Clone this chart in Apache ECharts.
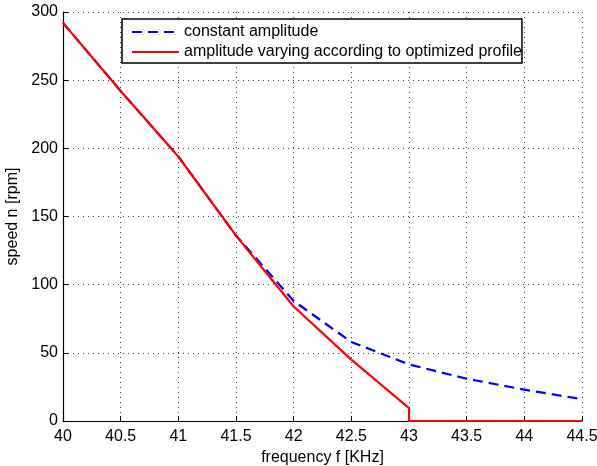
<!DOCTYPE html>
<html>
<head>
<meta charset="utf-8">
<script src="https://cdn.jsdelivr.net/npm/echarts@6/dist/echarts.min.js"></script>
<style>
html,body{margin:0;padding:0;background:#fff;}
#c{width:597px;height:466px;}
</style>
</head>
<body>
<div id="c"></div>
<script>
const xTicks = [40, 40.5, 41, 41.5, 42, 42.5, 43, 43.5, 44, 44.5];
const yTicks = [0, 50, 100, 150, 200, 250, 300];

const constFreq = [40, 40.5, 41, 41.5, 42, 42.5, 43, 43.5, 44, 44.5];
const constSpeed = [292, 242, 194, 136, 88, 58, 41.5, 31, 23, 16];

const optFreq = [40, 40.5, 41, 41.5, 42, 42.5, 43, 43, 44.5];
const optSpeed = [292, 242, 194, 136, 84, 45, 9.5, 0, 0];

const seriesNames = ['constant amplitude', 'amplitude varying according to optimized profile'];

const font = 'Liberation Sans, Arial, Helvetica, sans-serif';
const chart = echarts.init(document.getElementById('c'), null, {renderer: 'canvas'});

const zip = (xs, ys) => xs.map((x, i) => [x, ys[i]]);

chart.setOption({
  animation: false,
  backgroundColor: '#fff',
  grid: {left: 63, right: 15, top: 12, bottom: 45, containLabel: false, outerBoundsMode: 'none'},
  legend: {
    orient: 'vertical',
    left: 122, top: 19,
    padding: [5, 0, 3, 9],
    itemGap: 4,
    itemWidth: 47,
    itemHeight: 14,
    backgroundColor: '#fff',
    borderColor: '#000',
    borderWidth: 1.5,
    borderRadius: 0,
    itemStyle: {opacity: 0},
    textStyle: {fontFamily: font, fontSize: 16, color: '#000', padding: [0, 0, 0, 0]},
    data: seriesNames
  },
  xAxis: {
    type: 'value',
    min: 40, max: 44.5, interval: 0.5,
    name: 'frequency f [KHz]',
    nameLocation: 'middle',
    nameGap: 29,
    nameTextStyle: {fontFamily: font, fontSize: 16, color: '#000'},
    axisLine: {onZero: false, lineStyle: {color: '#000', width: 1.2}},
    axisTick: {inside: true, length: 5, lineStyle: {color: '#000'}},
    axisLabel: {fontFamily: font, fontSize: 16, color: '#000', margin: 8,
      formatter: v => String(v)},
    splitLine: {show: true, lineStyle: {color: '#444', width: 1, type: [1, 4]}}
  },
  yAxis: {
    type: 'value',
    min: 0, max: 300, interval: 50,
    name: 'speed n [rpm]',
    nameLocation: 'middle',
    nameGap: 37,
    nameRotate: 90,
    nameTextStyle: {fontFamily: font, fontSize: 16, color: '#000'},
    axisLine: {show: true, lineStyle: {color: '#000', width: 1.2}},
    axisTick: {show: true, inside: true, length: 5, lineStyle: {color: '#000'}},
    axisLabel: {fontFamily: font, fontSize: 16, color: '#000', margin: 5},
    splitLine: {show: true, lineStyle: {color: '#444', width: 1, type: [1, 4]}}
  },
  series: [
    {
      name: seriesNames[0],
      type: 'line',
      data: zip(constFreq, constSpeed),
      symbol: 'none',
      showSymbol: false,
      lineStyle: {color: '#0000ff', width: 2.2, type: [10, 6]},
      itemStyle: {color: '#0000ff'},
      z: 2
    },
    {
      name: seriesNames[1],
      type: 'line',
      data: zip(optFreq, optSpeed),
      symbol: 'none',
      showSymbol: false,
      lineStyle: {color: '#ff0000', width: 2.2, type: 'solid'},
      itemStyle: {color: '#ff0000'},
      z: 3
    }
  ]
});
</script>
</body>
</html>
